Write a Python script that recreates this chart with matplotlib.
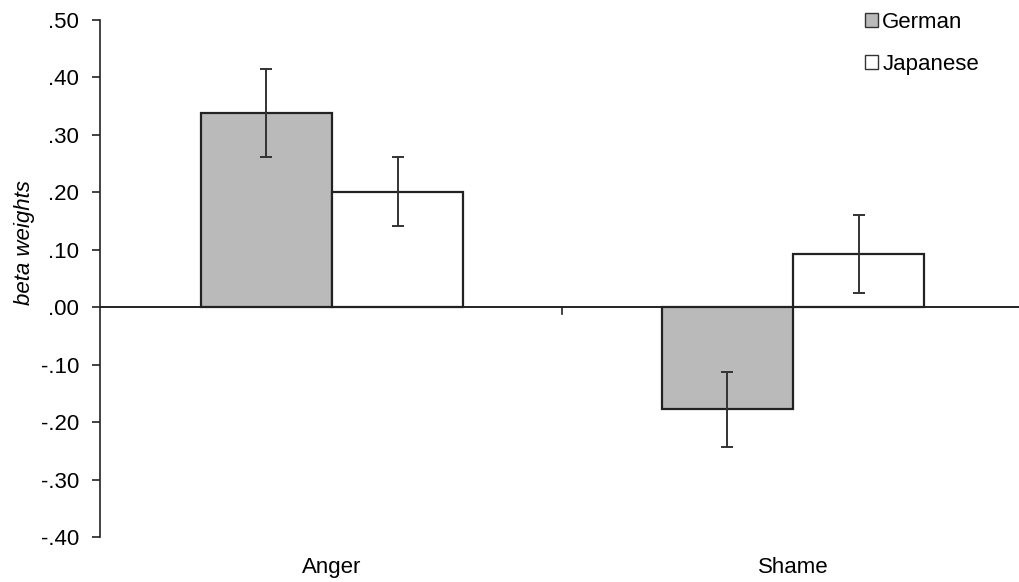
import matplotlib
matplotlib.use("Agg")
import matplotlib.pyplot as plt
import numpy as np

categories = ["Anger", "Shame"]
series_names = ["German", "Japanese"]
german_vals = [0.338, -0.178]
german_err = [0.076, 0.065]
japanese_vals = [0.201, 0.092]
japanese_err = [0.060, 0.068]
yticks = [0.5, 0.4, 0.3, 0.2, 0.1, 0.0, -0.1, -0.2, -0.3, -0.4]
ytick_labels = [".50", ".40", ".30", ".20", ".10", ".00", "-.10", "-.20", "-.30", "-.40"]

plt.rcParams['font.family'] = ['Liberation Sans', 'DejaVu Sans']
FS = 16

W, H = 1019, 582
fig = plt.figure(figsize=(W / 100, H / 100), dpi=100)
ax = fig.add_axes([100 / W, (H - 537) / H, (1019 - 100) / W, (537 - 20) / H])

x = np.arange(len(categories))
bw = 0.285
edge = "#222222"
ax.bar(x - bw / 2, german_vals, width=bw, color="#BABABA", edgecolor=edge, linewidth=1.6,
       label=series_names[0], zorder=2)
ax.bar(x + bw / 2, japanese_vals, width=bw, color="white", edgecolor=edge, linewidth=1.6,
       label=series_names[1], zorder=2)
ax.errorbar(x - bw / 2, german_vals, yerr=german_err, fmt="none", ecolor="#333333",
            elinewidth=1.4, capsize=4, capthick=1.4, zorder=3)
ax.errorbar(x + bw / 2, japanese_vals, yerr=japanese_err, fmt="none", ecolor="#333333",
            elinewidth=1.4, capsize=4, capthick=1.4, zorder=3)

ax.axhline(0, color="#222222", linewidth=1.4, zorder=4)
# middle category separator tick
ax.plot([0.5, 0.5], [0, -0.012], color="#222222", linewidth=1.2, clip_on=False)

ax.set_xlim(-0.503, 1.49)
ax.set_ylim(-0.4, 0.5)
ax.set_yticks(yticks)
ax.set_yticklabels(ytick_labels, fontsize=FS)
ax.tick_params(axis='y', direction='out', length=6, width=1.2, pad=9, color="#222222")
ax.set_xticks([])
for s in ["top", "right", "bottom"]:
    ax.spines[s].set_visible(False)
ax.spines["left"].set_linewidth(1.2)
ax.spines["left"].set_color("#222222")

ax.set_ylabel("beta weights", fontsize=FS, style="italic")
ax.yaxis.set_label_coords(-0.071, 0.57)

for i, c in enumerate(categories):
    ax.text(x[i], -0.4 - 0.053, c, ha="center", va="center", fontsize=FS,
            transform=ax.transData, clip_on=False)

leg = ax.legend(loc="upper left", bbox_to_anchor=(856 / W, 1.0 - 3 / H),
                bbox_transform=fig.transFigure, frameon=False, fontsize=FS,
                handlelength=0.6, handleheight=0.6, handletextpad=0.18,
                labelspacing=0.95, borderaxespad=0)
for h in leg.legend_handles:
    h.set_linewidth(1.0)
    h.set_edgecolor("#333333")

fig.savefig("out.png", dpi=100)
